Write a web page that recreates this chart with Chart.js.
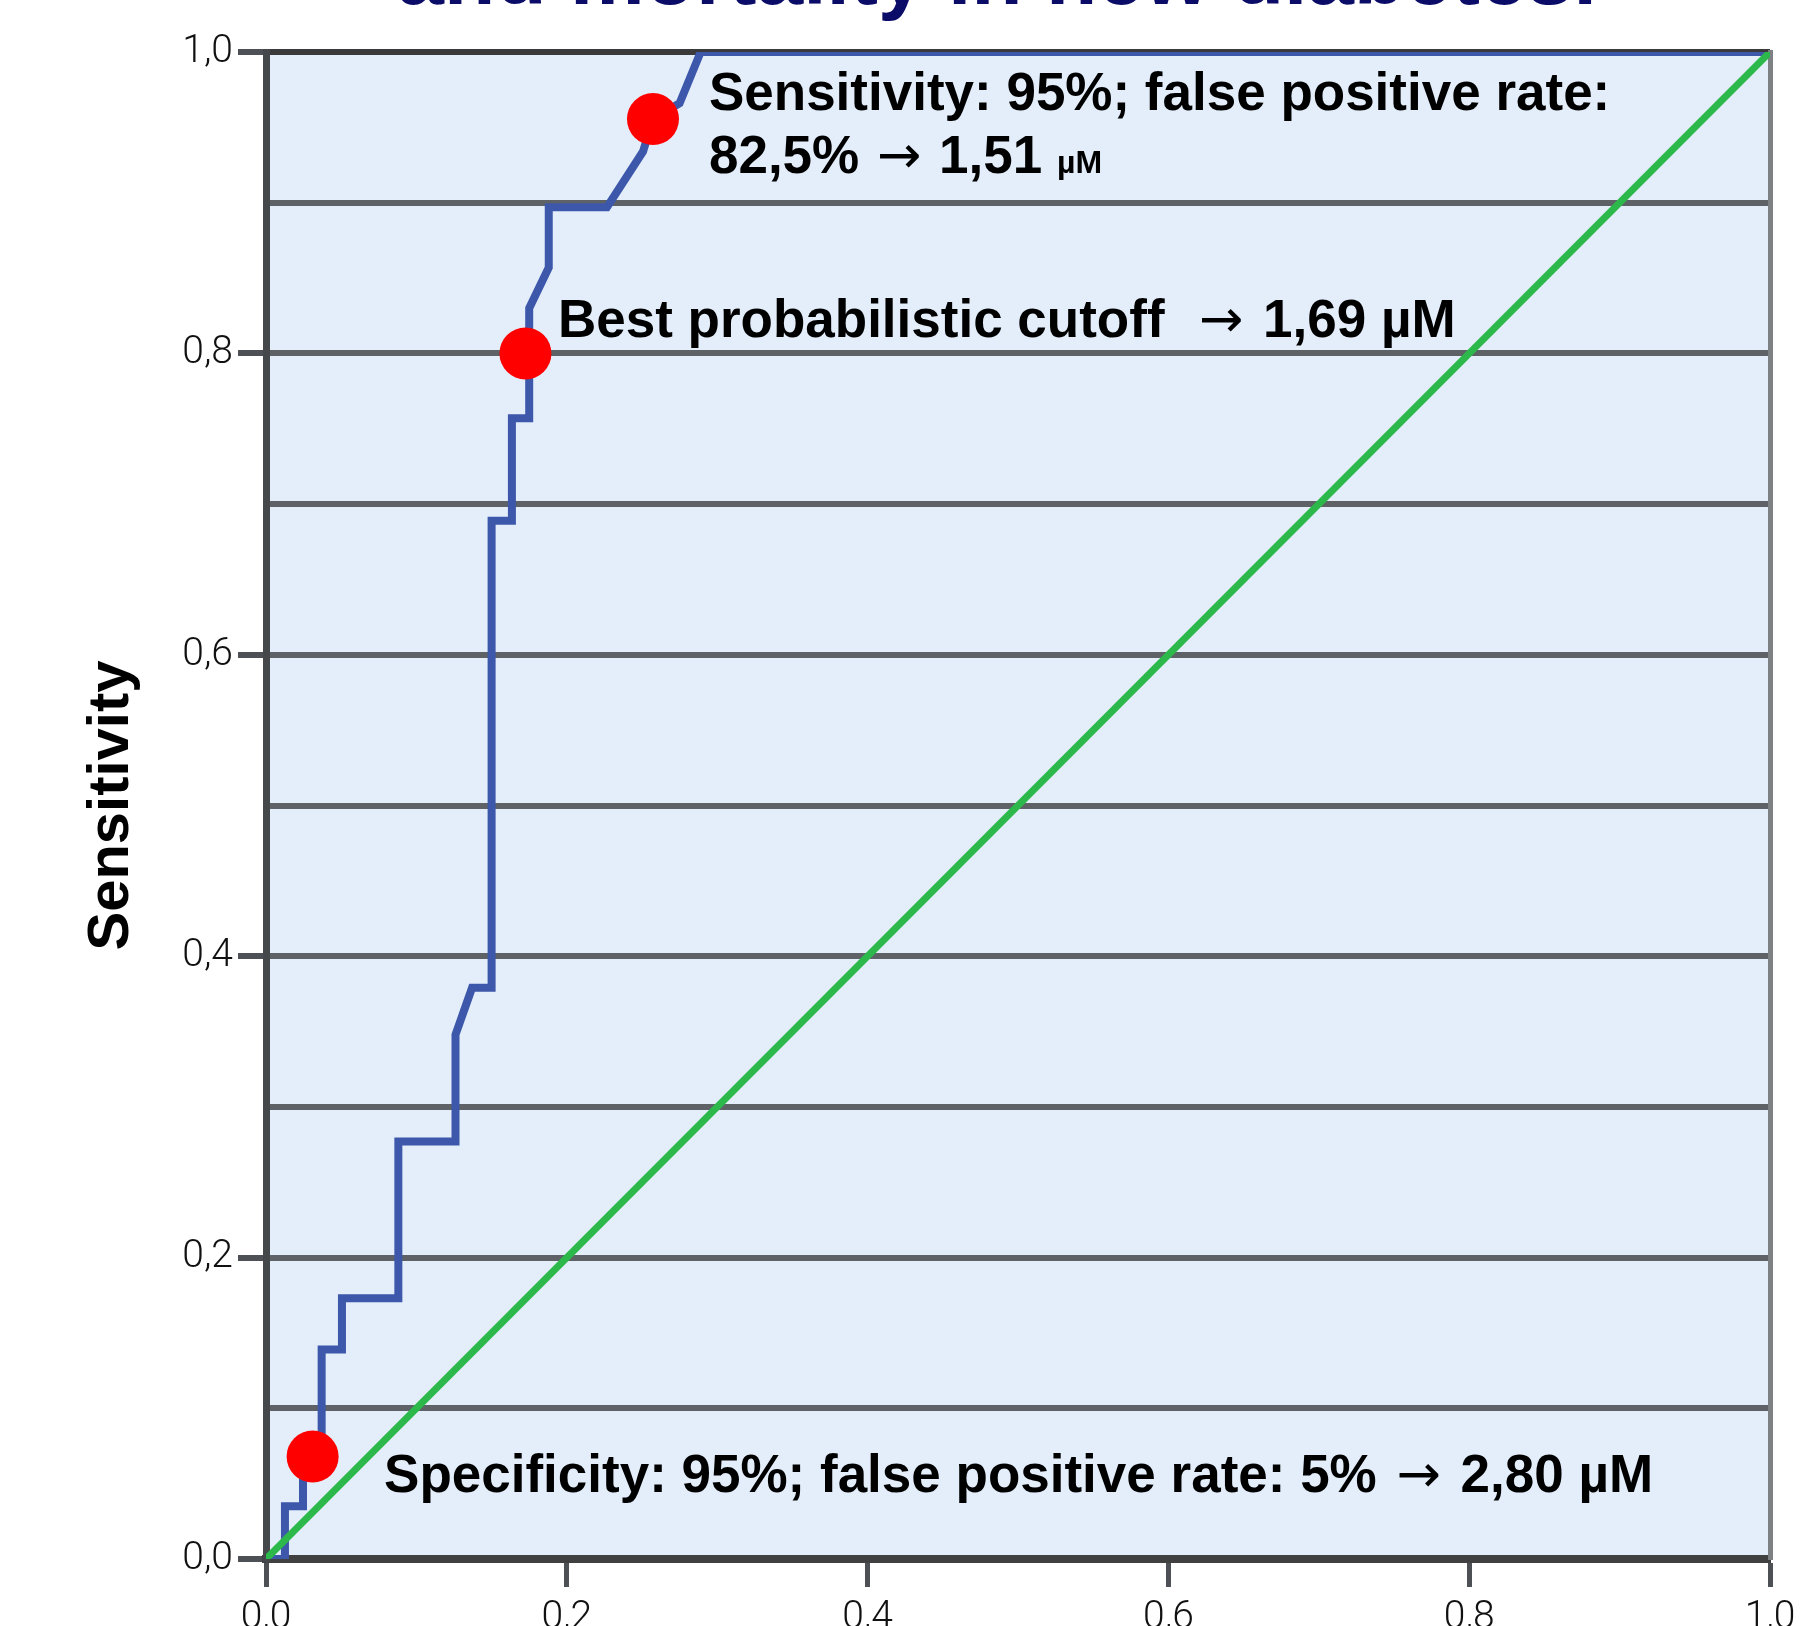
<!DOCTYPE html>
<html>
<head>
<meta charset="utf-8">
<title>ROC</title>
<script src="https://cdn.jsdelivr.net/npm/chart.js@4.4.1/dist/chart.umd.min.js"></script>
<style>
	html, body { margin: 0; padding: 0; background: #fff; }
	#wrap { width: 1819px; height: 1626px; position: relative; }
</style>
</head>
<body>
<div id="wrap"><canvas id="roc"></canvas></div>
<script>
	// ROC curve (false positive rate / sensitivity)
	const rocFpr = [0, 0.0126, 0.0126, 0.0246, 0.0246, 0.037, 0.037, 0.0505, 0.0505, 0.088, 0.088,
		0.126, 0.126, 0.137, 0.150, 0.150, 0.1635, 0.1635, 0.175, 0.175, 0.188, 0.188,
		0.2267, 0.2507, 0.2573, 0.275, 0.289, 1.0];
	const rocTpr = [0, 0, 0.035, 0.035, 0.068, 0.068, 0.139, 0.139, 0.173, 0.173, 0.277,
		0.277, 0.348, 0.379, 0.379, 0.689, 0.689, 0.757, 0.757, 0.830, 0.857, 0.897,
		0.897, 0.934, 0.9555, 0.966, 1.0, 1.0];

	// reference line
	const diagX = [0, 1];
	const diagY = [0, 1];

	// marked cutoffs
	const cutFpr = [0.031, 0.1725, 0.2573];
	const cutTpr = [0.068, 0.80, 0.9555];

	const yTickLabels = ['0,0', '0,2', '0,4', '0,6', '0,8', '1,0'];
	const xTickLabels = ['0,0', '0,2', '0,4', '0,6', '0,8', '1,0'];

	const titleText = 'and mortality in new diabetes.';
	const yTitle = 'Sensitivity';

	const toPts = (xs, ys) => xs.map((x, i) => ({ x: x, y: ys[i] }));

	const tickFont = { family: 'Roboto, "Liberation Sans", sans-serif', size: 39, weight: 300 };
	const boldFont = '"Liberation Sans", Arial, sans-serif';
	const big = 'bold 53px ' + boldFont;
	const small = 'bold 32px ' + boldFont;
	const arrow = '53px "DejaVu Sans", sans-serif';

	// draws a line of text made of runs with their own font (third item: extra gap on each side)
	function drawRuns(ctx, runs, x, y) {
		runs.forEach(r => {
			let gap = r[2] || 0;
			ctx.font = r[1];
			x += gap;
			ctx.fillText(r[0], x, y);
			x += ctx.measureText(r[0]).width + gap;
		});
	}

	const decor = {
		id: 'decor',
		beforeDraw(chart) {
			const a = chart.chartArea;
			const ctx = chart.ctx;
			ctx.save();
			ctx.fillStyle = '#e3eefa';
			ctx.fillRect(a.left, a.top, a.right - a.left, a.bottom - a.top);
			ctx.restore();
		},
		afterDatasetsDraw(chart) {
			const ctx = chart.ctx;
			const sx = chart.scales.x, sy = chart.scales.y;
			const px = v => sx.getPixelForValue(v);
			const py = v => sy.getPixelForValue(v);
			ctx.save();
			ctx.fillStyle = '#000';
			ctx.textBaseline = 'alphabetic';
			ctx.textAlign = 'left';
			drawRuns(ctx, [['Sensitivity: 95%; false positive rate:', big]], px(0.2945), py(0.9615));
			drawRuns(ctx, [['82,5% ', big], ['\u2192', arrow, 3], [' 1,51 ', big], ['\u00b5M', small]],
				px(0.2945), py(0.9197));
			drawRuns(ctx, [['Best probabilistic cutoff  ', big], ['\u2192', arrow, 5], [' 1,69 \u00b5M', big]],
				px(0.1941), py(0.8109));
			drawRuns(ctx, [['Specificity: 95%; false positive rate: 5% ', big], ['\u2192', arrow, 5], [' 2,80 \u00b5M', big]],
				px(0.0785), py(0.0445));
			ctx.restore();
		},
		afterDraw(chart) {
			const ctx = chart.ctx;
			ctx.save();
			ctx.fillStyle = '#0b0b68';
			ctx.textAlign = 'center';
			ctx.textBaseline = 'alphabetic';
			ctx.font = 'bold 84px ' + boldFont;
			ctx.fillText(titleText, 997, 4);
			ctx.restore();
		}
	};

	const ctx = document.getElementById('roc').getContext('2d');

	let rocChart = new Chart(ctx, {
		type: 'scatter',
		data: {
			datasets: [{
				label: 'cutoffs',
				data: toPts(cutFpr, cutTpr),
				pointRadius: 26,
				pointBackgroundColor: '#ff0000',
				pointBorderWidth: 0,
				showLine: false
			}, {
				label: 'reference',
				data: toPts(diagX, diagY),
				showLine: true,
				borderColor: '#2db84b',
				borderWidth: 7,
				pointRadius: 0,
				tension: 0
			}, {
				label: 'ROC',
				data: toPts(rocFpr, rocTpr),
				showLine: true,
				borderColor: '#3d58ab',
				borderWidth: 8,
				borderJoinStyle: 'miter',
				pointRadius: 0,
				tension: 0
			}]
		},
		options: {
			responsive: true,
			maintainAspectRatio: false,
			animation: false,
			layout: { padding: { top: 52, right: 49, left: 0, bottom: 0 } },
			plugins: {
				legend: { display: false },
				tooltip: { enabled: false }
			},
			scales: {
				x: {
					type: 'linear',
					min: 0,
					max: 1,
					afterFit: s => { s.height = 67; },
					grid: {
						drawOnChartArea: false,
						tickLength: 28,
						tickColor: '#4d5054',
						tickWidth: 5
					},
					border: { color: '#404040', width: 8 },
					ticks: {
						stepSize: 0.2,
						padding: 8,
						color: '#111',
						font: tickFont,
						callback: v => xTickLabels[Math.round(v * 5)]
					}
				},
				y: {
					type: 'linear',
					min: 0,
					max: 1,
					afterFit: s => { s.width = 266; },
					grid: {
						color: c => (c.tick && Math.round(c.tick.value * 10) === 10) ? '#3a3a3a' : '#5e6266',
						lineWidth: 6,
						tickLength: 28,
						tickWidth: 6,
						tickColor: c => (Math.round(c.tick.value * 10) % 2 === 0) ? '#4d5054' : 'rgba(0,0,0,0)'
					},
					border: { color: '#45484b', width: 7 },
					ticks: {
						stepSize: 0.1,
						padding: 5,
						color: '#111',
						font: tickFont,
						callback: v => {
							let k = Math.round(v * 10);
							return k % 2 === 0 ? yTickLabels[k / 2] : '';
						}
					},
					title: {
						display: true,
						text: yTitle,
						color: '#000',
						font: { family: boldFont, size: 58, weight: 'bold' },
						padding: { top: 77, bottom: 0 }
					}
				},
				y2: {
					type: 'linear',
					position: 'right',
					min: 0,
					max: 1,
					afterFit: s => { s.width = 0; },
					grid: { drawOnChartArea: false, drawTicks: false },
					ticks: { display: false },
					border: { color: '#7d8184', width: 5 }
				}
			}
		},
		plugins: [decor]
	});
</script>
</body>
</html>
